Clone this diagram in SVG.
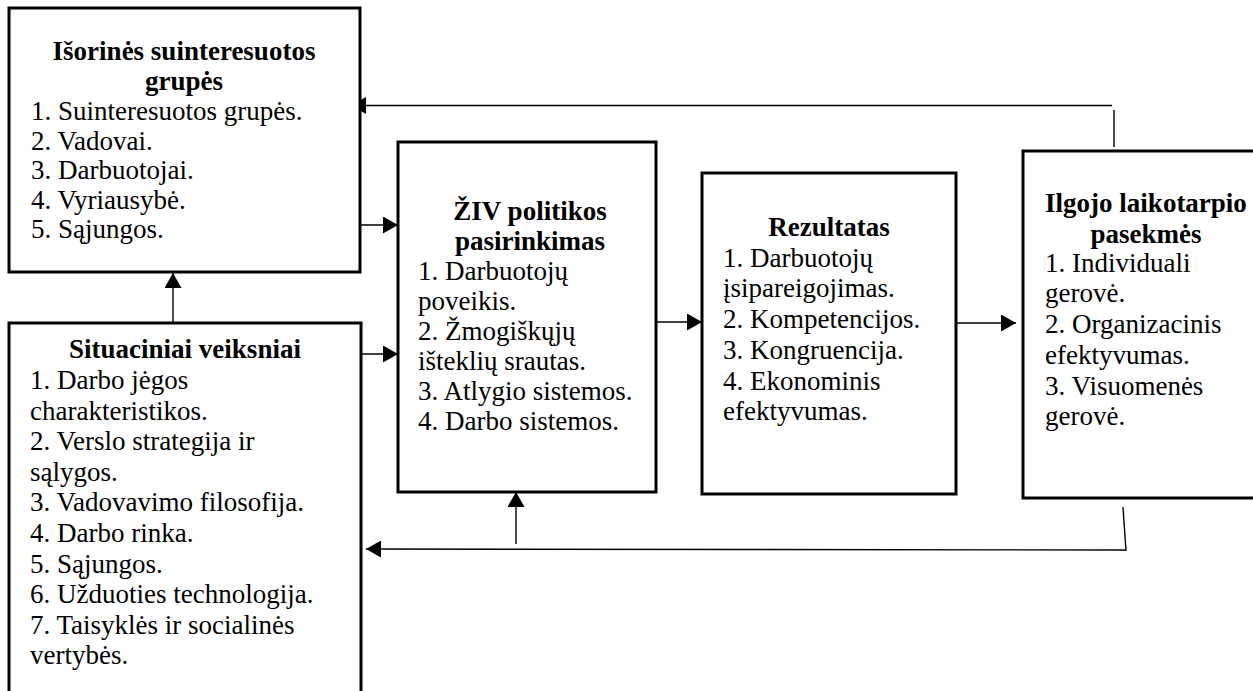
<svg xmlns="http://www.w3.org/2000/svg" width="1253" height="691" viewBox="0 0 1253 691">
<style>
.box{fill:#fff;stroke:#000;stroke-width:3}
.t{font-family:"Liberation Serif","Times New Roman",serif;font-size:27px;fill:#000}
.b{font-weight:bold;text-anchor:middle}
.c{fill:none;stroke:#000;stroke-width:1.4}
</style>
<defs>
<marker id="ah" viewBox="0 0 15 17" refX="15" refY="8.5" markerWidth="15" markerHeight="17" markerUnits="userSpaceOnUse" orient="auto">
<path d="M0,0 L15,8.5 L0,17 Z" fill="#000"/>
</marker>
</defs>
<rect width="1253" height="691" fill="#fff"/>
<g id="connectors">
<line class="c" x1="360" y1="225" x2="398" y2="225" marker-end="url(#ah)"/>
<line class="c" x1="361" y1="354" x2="398" y2="354" marker-end="url(#ah)"/>
<line class="c" x1="173" y1="323" x2="173" y2="273" marker-end="url(#ah)"/>
<line class="c" x1="656" y1="322" x2="702" y2="322" marker-end="url(#ah)"/>
<line class="c" x1="956" y1="323" x2="1016" y2="323" marker-end="url(#ah)"/>
<line class="c" x1="1114" y1="147" x2="1114" y2="110"/>
<line class="c" x1="1112" y1="105.5" x2="351" y2="105.5" marker-end="url(#ah)"/>
<line class="c" x1="1123" y1="507" x2="1126" y2="551"/>
<line class="c" x1="1126" y1="550" x2="366" y2="549" marker-end="url(#ah)"/>
<line class="c" x1="516" y1="544" x2="516" y2="492" marker-end="url(#ah)"/>
</g>
<g id="isorines">
<rect class="box" x="9" y="8" width="351" height="264"/>
<text class="t b" x="184" y="60">Išorinės suinteresuotos</text>
<text class="t b" x="184" y="90">grupės</text>
<text class="t" x="31" y="120">1. Suinteresuotos grupės.</text>
<text class="t" x="31" y="149.5">2. Vadovai.</text>
<text class="t" x="31" y="179">3. Darbuotojai.</text>
<text class="t" x="31" y="208.5">4. Vyriausybė.</text>
<text class="t" x="31" y="238">5. Sąjungos.</text>
</g>
<g id="situaciniai">
<rect class="box" x="9" y="323" width="352" height="380"/>
<text class="t b" x="185" y="358">Situaciniai veiksniai</text>
<text class="t" x="30" y="389">1. Darbo jėgos</text>
<text class="t" x="30" y="419.5">charakteristikos.</text>
<text class="t" x="30" y="450">2. Verslo strategija ir</text>
<text class="t" x="30" y="480.5">sąlygos.</text>
<text class="t" x="30" y="511">3. Vadovavimo filosofija.</text>
<text class="t" x="30" y="542">4. Darbo rinka.</text>
<text class="t" x="30" y="572.5">5. Sąjungos.</text>
<text class="t" x="30" y="603">6. Užduoties technologija.</text>
<text class="t" x="30" y="633.5">7. Taisyklės ir socialinės</text>
<text class="t" x="30" y="664">vertybės.</text>
</g>
<g id="ziv">
<rect class="box" x="398" y="142" width="258" height="350"/>
<text class="t b" x="530" y="220">ŽIV politikos</text>
<text class="t b" x="530" y="250">pasirinkimas</text>
<text class="t" x="418" y="280">1. Darbuotojų</text>
<text class="t" x="418" y="310">poveikis.</text>
<text class="t" x="418" y="340">2. Žmogiškųjų</text>
<text class="t" x="418" y="370">išteklių srautas.</text>
<text class="t" x="418" y="400">3. Atlygio sistemos.</text>
<text class="t" x="418" y="430">4. Darbo sistemos.</text>
</g>
<g id="rezultatas">
<rect class="box" x="702" y="173" width="254" height="321"/>
<text class="t b" x="829" y="236">Rezultatas</text>
<text class="t" x="723" y="267">1. Darbuotojų</text>
<text class="t" x="723" y="297">įsipareigojimas.</text>
<text class="t" x="723" y="328">2. Kompetencijos.</text>
<text class="t" x="723" y="358.5">3. Kongruencija.</text>
<text class="t" x="723" y="389.5">4. Ekonominis</text>
<text class="t" x="723" y="420">efektyvumas.</text>
</g>
<g id="ilgojo">
<rect class="box" x="1023" y="151" width="250" height="347"/>
<text class="t b" x="1146" y="212">Ilgojo laikotarpio</text>
<text class="t b" x="1146" y="242.5">pasekmės</text>
<text class="t" x="1045" y="272">1. Individuali</text>
<text class="t" x="1045" y="302">gerovė.</text>
<text class="t" x="1045" y="333">2. Organizacinis</text>
<text class="t" x="1045" y="363.5">efektyvumas.</text>
<text class="t" x="1045" y="394.5">3. Visuomenės</text>
<text class="t" x="1045" y="425">gerovė.</text>
</g>
</svg>
